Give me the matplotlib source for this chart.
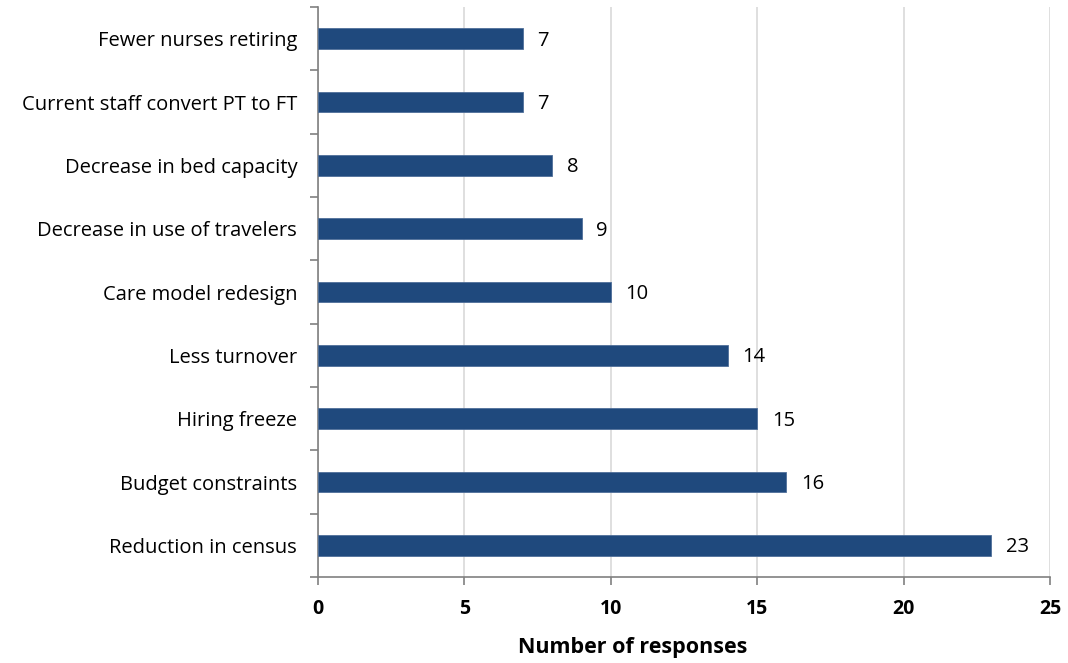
import numpy as np
import matplotlib.pyplot as plt

categories = ["Reduction in census", "Budget constraints", "Hiring freeze",
              "Less turnover", "Care model redesign", "Decrease in use of travelers",
              "Decrease in bed capacity", "Current staff convert PT to FT",
              "Fewer nurses retiring"]
values = [23, 16, 15, 14, 10, 9, 8, 7, 7]

plt.rcParams['font.family'] = ['Open Sans', 'DejaVu Sans']

fig = plt.figure(figsize=(10.68, 6.63), dpi=100)
ax = fig.add_axes([0.2978, 0.1297, 0.6853, 0.8597])

y = np.arange(len(categories))
ax.barh(y, values, height=0.33, color='#1F497D', edgecolor='#4F6F9A', linewidth=0.6, zorder=3)

for yi, v in zip(y, values):
    ax.text(v + 0.5, yi - 0.03, str(v), va='center', ha='left', fontsize=14.5)

ax.set_xlim(0, 25)
ax.set_ylim(-0.5, len(categories) - 0.5)
ax.set_xticks(np.arange(0, 26, 5))
ax.set_xticklabels([str(t) for t in range(0, 26, 5)], fontsize=14, fontweight='bold')
ax.set_yticks(y)
ax.set_yticklabels(categories, fontsize=14.5)
ax.tick_params(axis='y', length=0, pad=15)
ax.set_yticks(np.arange(-0.5, len(categories), 1), minor=True)
ax.tick_params(axis='y', which='minor', length=6, color='#808080', width=1.2)
ax.tick_params(axis='x', length=6, color='#808080', width=1.2, pad=10)

ax.grid(axis='x', color='#D9D9D9', linewidth=1.2, zorder=0)
for s in ['top', 'right']:
    ax.spines[s].set_visible(False)
for s in ['left', 'bottom']:
    ax.spines[s].set_color('#808080')
    ax.spines[s].set_linewidth(1.2)

fig.text(633 / 1068, 1 - 648 / 663, 'Number of responses', fontsize=15.5,
         fontweight='bold', ha='center', va='center')

fig.savefig('out.png', dpi=100)
